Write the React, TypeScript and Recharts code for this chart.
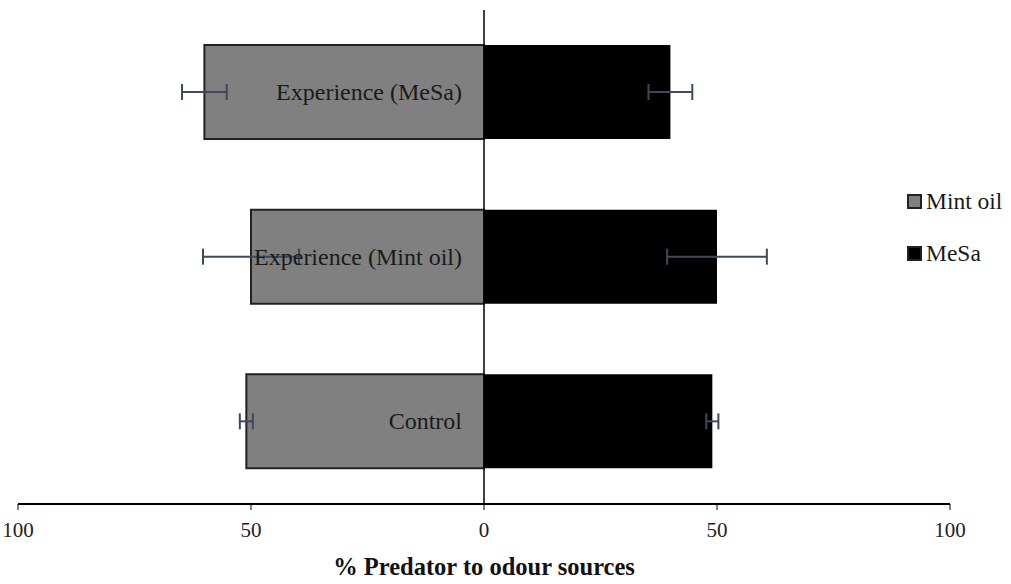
import {
  BarChart,
  Bar,
  XAxis,
  YAxis,
  ReferenceLine,
  ErrorBar,
  LabelList,
  Legend,
} from "recharts";

// Groups run top to bottom
const groups = ["Experience (MeSa)", "Experience (Mint oil)", "Control"];
// % of predators choosing each odour source, with error (± %)
const mintOil = [60, 50, 51];
const mintOilErr = [4.8, 10.3, 1.4];
const mesa = [40, 50, 49];
const mesaErr = [4.7, 10.7, 1.3];
const xTicks = [-100, -50, 0, 50, 100];

const serif = "'Liberation Serif', 'Times New Roman', serif";

// Mint oil goes to the left of zero, MeSa to the right
const data = groups.map((group, i) => ({
  group,
  mint: -mintOil[i],
  mintErr: mintOilErr[i],
  mesa: mesa[i],
  mesaErr: mesaErr[i],
}));

const legendItems = [
  { name: "Mint oil", color: "#808080" },
  { name: "MeSa", color: "#000000" },
];

function GroupLabel(props: any) {
  const { x, y, width, height, value } = props;
  const right = Math.max(x, x + width);
  return (
    <text
      x={right - 22}
      y={y + height / 2}
      textAnchor="end"
      dominantBaseline="central"
      fontFamily={serif}
      fontSize={24}
      fill="#1a1a1a"
    >
      {value}
    </text>
  );
}

function SideLegend() {
  return (
    <div style={{ fontFamily: serif, fontSize: 23.5, color: "#1a1a1a" }}>
      {legendItems.map((item) => (
        <div
          key={item.name}
          style={{ display: "flex", alignItems: "center", height: 28, marginBottom: 24 }}
        >
          <span
            style={{
              boxSizing: "border-box",
              width: 15,
              height: 15,
              background: item.color,
              border: "2px solid #222",
              marginRight: 4,
            }}
          />
          {item.name}
        </div>
      ))}
    </div>
  );
}

export default function App() {
  return (
    <div style={{ position: "absolute", left: 0, top: 0, background: "#fff" }}>
      <BarChart
        width={1011}
        height={584}
        data={data}
        layout="vertical"
        stackOffset="sign"
        margin={{ top: 10, right: 61, left: 18, bottom: 0 }}
      >
        <XAxis
          type="number"
          domain={[-100, 100]}
          ticks={xTicks}
          tickFormatter={(v: number) => String(Math.abs(v))}
          height={80}
          tickMargin={12}
          tick={{ fill: "#222", fontSize: 21, fontFamily: serif }}
          axisLine={{ stroke: "#000", strokeWidth: 2 }}
          tickLine={{ stroke: "#000" }}
          label={{
            value: "% Predator to odour sources",
            position: "insideBottom",
            offset: 9,
            style: { fontFamily: serif, fontSize: 24.5, fontWeight: "bold", fill: "#111" },
          }}
        />
        <YAxis type="category" dataKey="group" hide />
        <Legend
          layout="vertical"
          align="center"
          verticalAlign="middle"
          content={<SideLegend />}
          wrapperStyle={{ left: 907, top: 187, width: 104 }}
        />
        <Bar
          dataKey="mint"
          name="Mint oil"
          stackId="a"
          fill="#808080"
          stroke="#222"
          strokeWidth={2}
          barSize={94}
          isAnimationActive={false}
        >
          <ErrorBar dataKey="mintErr" direction="x" width={8} stroke="#3d4a5c" strokeWidth={2} />
          <LabelList dataKey="group" content={<GroupLabel />} />
        </Bar>
        <Bar
          dataKey="mesa"
          name="MeSa"
          stackId="a"
          fill="#000"
          barSize={94}
          isAnimationActive={false}
        >
          <ErrorBar dataKey="mesaErr" direction="x" width={8} stroke="#3d4a5c" strokeWidth={2} />
        </Bar>
        <ReferenceLine x={0} stroke="#000" strokeWidth={1.5} />
      </BarChart>
    </div>
  );
}
